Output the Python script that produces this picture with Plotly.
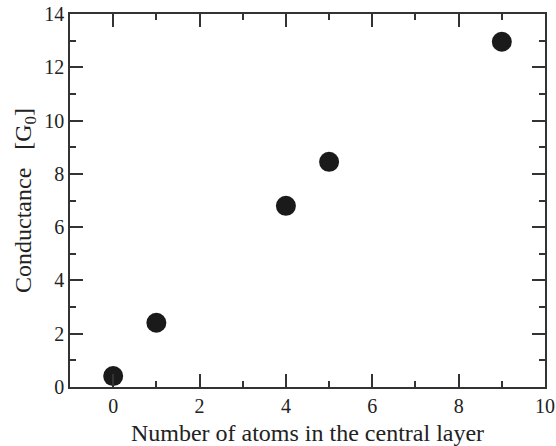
import plotly.graph_objects as go

atoms = [0, 1, 4, 5, 9]
conductance = [0.41, 2.41, 6.8, 8.45, 12.96]

font = "Liberation Serif"
fig = go.Figure()
fig.add_trace(go.Scatter(x=atoms, y=conductance, mode="markers",
                         marker=dict(size=20, color="#1a1a1a"), showlegend=False))

axis_common = dict(showgrid=False, zeroline=False, showline=True, linecolor="#333",
                   linewidth=1.5, mirror="ticks", ticks="inside", ticklen=13, tickwidth=1.5,
                   tickcolor="#333", automargin=False,
                   tickfont=dict(family=font, size=20, color="#222"))
fig.update_xaxes(range=[-1, 10], dtick=2, tick0=0,
                 minor=dict(dtick=1, tick0=0, ticks="inside", ticklen=6, tickwidth=1.5, tickcolor="#333"),
                 title=dict(text="Number of atoms in the central layer", font=dict(family=font, size=24, color="#222"), standoff=8),
                 **axis_common)
fig.update_yaxes(range=[0, 14], dtick=2, tick0=0,
                 minor=dict(dtick=1, tick0=0, ticks="inside", ticklen=6, tickwidth=1.5, tickcolor="#333"),
                 title=dict(text="Conductance&nbsp;&nbsp;&nbsp;[G<sub>0</sub>]", font=dict(family=font, size=24, color="#222"), standoff=6),
                 **axis_common)
fig.update_layout(width=556, height=446, margin=dict(l=70, r=11, t=14, b=59),
                  plot_bgcolor="white", paper_bgcolor="white")
fig.write_html("out.html", config={"displayModeBar": False},
               post_script="document.body.style.margin='0';document.body.style.overflow='hidden';")
